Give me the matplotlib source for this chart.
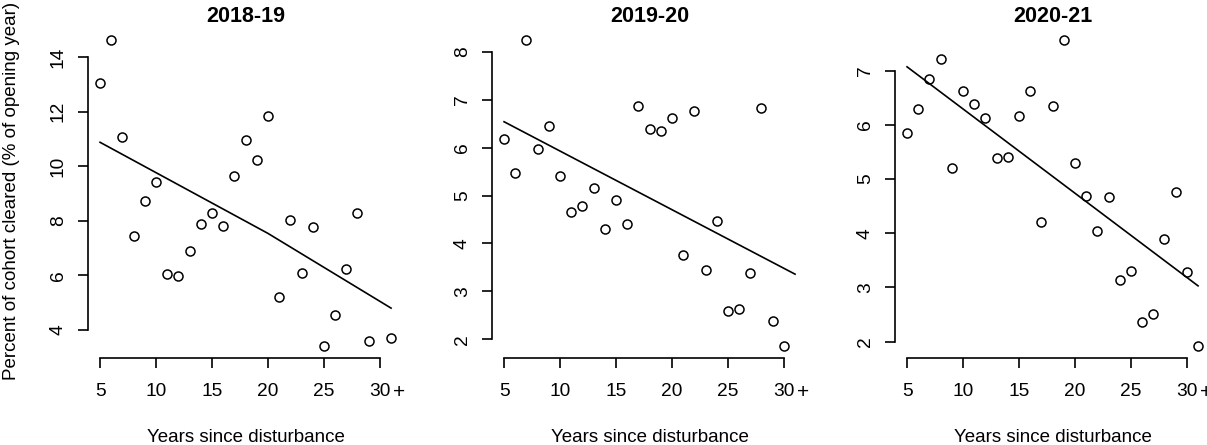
import matplotlib
matplotlib.use("Agg")
import matplotlib.pyplot as plt

plt.rcParams['font.family'] = ['Liberation Sans', 'DejaVu Sans']

titles = ["2018-19", "2019-20", "2020-21"]

x_1819 = list(range(5, 30)) + [31]
y_1819 = [13.06, 14.62, 11.08, 7.44, 8.73, 9.42, 6.04, 5.98, 6.89, 7.90,
          8.27, 7.82, 9.63, 10.95, 10.23, 11.83, 5.20, 8.03, 6.10, 7.76,
          3.41, 4.56, 6.22, 8.30, 3.60, 3.72]
fit_x_1819 = [5, 20, 31]
fit_y_1819 = [10.88, 7.54, 4.80]

x_1920 = list(range(5, 31))
y_1920 = [6.18, 5.48, 8.24, 5.97, 6.46, 5.40, 4.65, 4.79, 5.15, 4.30,
          4.90, 4.41, 6.87, 6.39, 6.35, 6.62, 3.77, 6.77, 3.45, 4.47,
          2.60, 2.64, 3.38, 6.83, 2.38, 1.86]
fit_x_1920 = [5, 31]
fit_y_1920 = [6.54, 3.36]

x_2021 = list(range(5, 32))
y_2021 = [5.85, 6.29, 6.85, 7.22, 5.21, 6.63, 6.38, 6.13, 5.39, 5.40,
          6.16, 6.62, 4.20, 6.34, 7.56, 5.30, 4.68, 4.04, 4.66, 3.13,
          3.30, 2.36, 2.51, 3.89, 4.76, 3.29, 1.92]
fit_x_2021 = [5, 31]
fit_y_2021 = [7.07, 3.03]

xticks = [5, 10, 15, 20, 25, 30]
xticklabels = ["5", "10", "15", "20", "25", "30"]
yticks_list = [[4, 6, 8, 10, 12, 14], [2, 3, 4, 5, 6, 7, 8], [2, 3, 4, 5, 6, 7]]
ylims = [(2.96, 15.07), (1.605, 8.495), (1.694, 7.786)]

xs = [x_1819, x_1920, x_2021]
ys = [y_1819, y_1920, y_2021]
fxs = [fit_x_1819, fit_x_1920, fit_x_2021]
fys = [fit_y_1819, fit_y_1920, fit_y_2021]

W, H = 1207, 445
fig = plt.figure(figsize=(W / 100, H / 100), dpi=100)

lefts = [88.4, 492.4, 895.4]
pw = 314.3
top_px, bot_px = 28.0, 358.3

for i in range(3):
    ax = fig.add_axes([lefts[i] / W, (H - bot_px) / H, pw / W, (bot_px - top_px) / H])
    ax.set_xlim(3.96, 32.04)
    ax.set_ylim(*ylims[i])
    ax.plot(xs[i], ys[i], linestyle='none', marker='o', markersize=6.5,
            markerfacecolor='none', markeredgecolor='black', markeredgewidth=1.1,
            clip_on=False)
    ax.plot(fxs[i], fys[i], color='black', linewidth=1.2, clip_on=False)
    for s in ['top', 'right']:
        ax.spines[s].set_visible(False)
    ax.spines['left'].set_bounds(yticks_list[i][0], yticks_list[i][-1])
    ax.spines['bottom'].set_bounds(5, 30)
    ax.spines['left'].set_linewidth(1.2)
    ax.spines['bottom'].set_linewidth(1.2)
    ax.set_xticks(xticks)
    ax.set_xticklabels(xticklabels)
    ax.set_yticks(yticks_list[i])
    ax.set_yticklabels([str(v) for v in yticks_list[i]], rotation=90, va='center')
    ax.tick_params(axis='both', length=7.5, width=1.2, labelsize=13.8)
    ax.tick_params(axis='x', pad=10)
    ax.tick_params(axis='y', pad=8)
    ax.text(31.75, -0.105, "+", transform=ax.get_xaxis_transform(), ha='center',
            va='center', fontsize=15, clip_on=False)
    cx = (lefts[i] + pw / 2) / W
    fig.text(cx, 1 - 17 / H, titles[i], ha='center', va='center',
             fontsize=15.5, fontweight='bold')
    fig.text(cx, 2.5 / H, "Years since disturbance", ha='center',
             va='baseline', fontsize=13.5)

fig.text(12 / W, 1 - 191 / H, "Percent of cohort cleared (% of opening year)",
         rotation=90, ha='center', va='center', fontsize=13.5)

fig.savefig("out.png", dpi=100)
